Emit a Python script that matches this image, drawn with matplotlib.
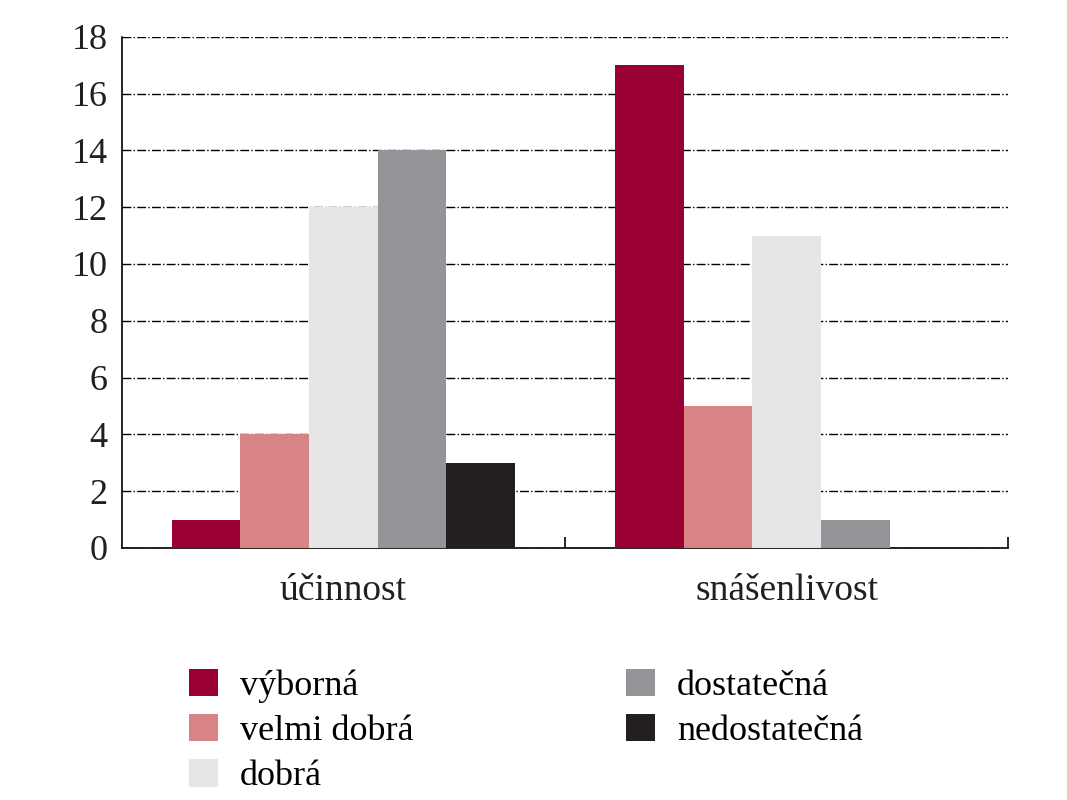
import matplotlib
matplotlib.use("Agg")
import matplotlib.pyplot as plt
import numpy as np

categories = ["účinnost", "snášenlivost"]
series = ["výborná", "velmi dobrá", "dobrá", "dostatečná", "nedostatečná"]
values = [[1, 17], [4, 5], [12, 11], [14, 1], [3, 0]]
colors = ["#9B0032", "#D98484", "#E6E6E7", "#939598", "#231F20"]

plt.rcParams['font.family'] = ['Liberation Serif', 'DejaVu Serif']
fig = plt.figure(figsize=(10.67, 8.0), dpi=100)
ax = fig.add_axes([0.114, 0.315, 0.831, 0.639])
x = np.arange(len(categories))
w = 0.155
for i, (s, v, c) in enumerate(zip(series, values, colors)):
    ax.bar(x + (i - 2) * w, v, w, color=c, label=s, zorder=3)
ax.set_ylim(0, 18)
ax.set_xlim(-0.5, 1.5)
ax.set_yticks(range(0, 19, 2))
ax.set_xticks([0.5, 1.5], minor=False)
ax.set_xticklabels([])
for xi, cat in zip(x, categories):
    ax.text(xi, -0.9, cat, ha="center", va="top", fontsize=27, color="#231F20")
ax.tick_params(axis="x", direction="in", length=8, width=1.2)
ax.tick_params(axis="y", direction="out", length=0, labelsize=26, colors="#231F20", pad=10)
ax.grid(axis="y", linestyle="-.", color="black", linewidth=1, zorder=0)
for s in ["top", "right"]:
    ax.spines[s].set_visible(False)
ax.spines["left"].set_linewidth(1.2)
ax.spines["bottom"].set_linewidth(1.2)
fig.legend(loc="upper left", bbox_to_anchor=(0.147, 0.205), ncol=2, frameon=False,
           fontsize=26, handlelength=0.8, handleheight=0.8, columnspacing=5.9,
           labelspacing=0.3, handletextpad=0.6)
fig.savefig("out.png")
